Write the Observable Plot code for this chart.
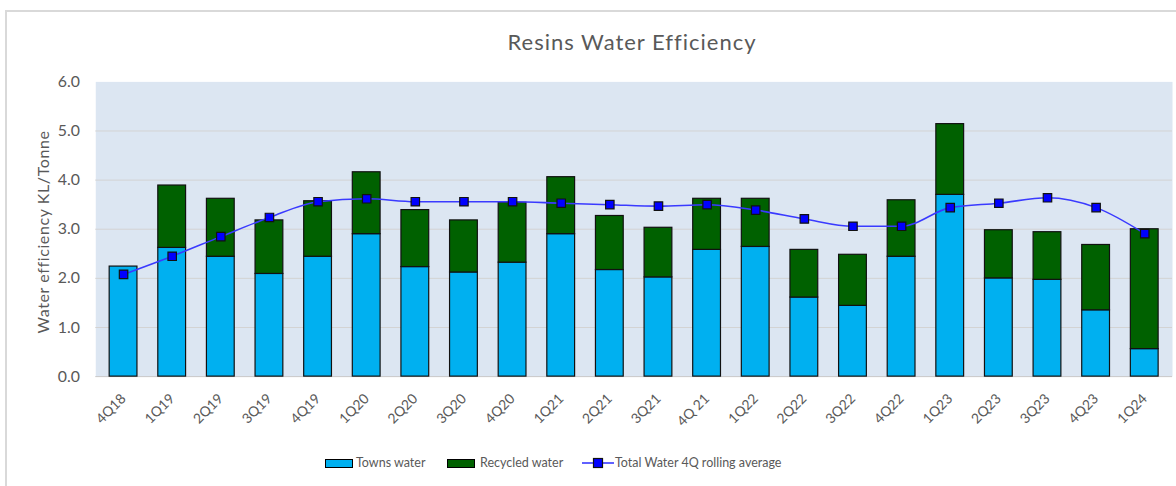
<!DOCTYPE html>
<html><head><meta charset="utf-8">
<script src="https://cdn.jsdelivr.net/npm/d3@7"></script>
<script src="https://cdn.jsdelivr.net/npm/@observablehq/plot@0.6"></script>
<style>
html,body{margin:0;padding:0;background:#fff;overflow:hidden;width:1176px;height:486px;}
#root{position:relative;width:1176px;height:486px;font-family:Lato,"Open Sans",sans-serif;color:#595959;overflow:hidden;}
#frame{position:absolute;left:5px;top:10px;width:1300px;height:600px;border-left:2px solid #d9d9d9;border-top:2px solid #d9d9d9;box-sizing:border-box;}
#title{position:absolute;left:0;width:1264px;top:29px;text-align:center;font-size:22px;letter-spacing:1px;line-height:26px;}
#ylabel{position:absolute;left:43px;top:232px;transform:translate(-50%,-50%) rotate(-90deg);white-space:nowrap;font-size:16px;letter-spacing:0.6px;line-height:18px;}
#chart{position:absolute;left:0;top:0;}
.lg{position:absolute;font-size:12.5px;line-height:16px;top:455px;white-space:nowrap;}
.sw{position:absolute;top:459px;width:26px;height:7px;border:1px solid #000;}
</style>
</head><body>
<div id="root">
  <div id="frame"></div>
  <div id="chart"></div>
  <div id="title"></div>
  <div id="ylabel"></div>
  <div id="legend"></div>
</div>
<script>
const titleText = "Resins Water Efficiency";
const yLabelText = "Water efficiency KL/Tonne";
const quarters = ["4Q18","1Q19","2Q19","3Q19","4Q19","1Q20","2Q20","3Q20","4Q20","1Q21","2Q21","3Q21","4Q 21","1Q22","2Q22","3Q22","4Q22","1Q23","2Q23","3Q23","4Q23","1Q24"];
const townsWater = [2.24,2.62,2.44,2.09,2.44,2.90,2.23,2.12,2.32,2.90,2.17,2.02,2.58,2.64,1.61,1.44,2.44,3.70,2.00,1.97,1.35,0.56];
const recycledWater = [0.00,1.27,1.18,1.09,1.13,1.26,1.16,1.06,1.22,1.16,1.10,1.01,1.04,0.98,0.97,1.04,1.15,1.44,0.98,0.97,1.33,2.44];
const rollingAverage = [2.08,2.45,2.85,3.24,3.56,3.62,3.56,3.56,3.56,3.53,3.50,3.47,3.50,3.39,3.21,3.06,3.06,3.44,3.53,3.64,3.44,2.91];
const yTicks = [0,1,2,3,4,5,6];
const seriesNames = ["Towns water","Recycled water"];
const lineName = "Total Water 4Q rolling average";
const seriesColors = ["#00b0f0","#006100"];
const lineColor = "#3a3aff";
const markerColor = "#0000ff";

const stacked = [];
quarters.forEach((q,i)=>{
  stacked.push({q, type: seriesNames[0], v: townsWater[i]});
  stacked.push({q, type: seriesNames[1], v: recycledWater[i]});
});
const avg = quarters.map((q,i)=>({q, v: rollingAverage[i]}));

const chart = Plot.plot({
  width: 1185, height: 442,
  marginLeft: 96, marginRight: 4, marginTop: 82, marginBottom: 63,
  style: {fontFamily: "Lato, 'Open Sans', sans-serif", fontSize: "14px", color: "#595959", background: "transparent", overflow: "visible"},
  x: {domain: quarters, paddingInner: 0.43, paddingOuter: 0.215, label: null, tickSize: 0, tickRotate: -45, tickPadding: 20},
  y: {domain: [0,6], ticks: yTicks, tickFormat: d3.format(".1f"), label: null, tickSize: 0, tickPadding: 16},
  color: {domain: seriesNames, range: seriesColors},
  marks: [
    Plot.frame({fill: "#dce6f2", stroke: null}),
    Plot.ruleY(yTicks.filter(d => d > 0 && d < 6), {stroke: "#d3d3d3", strokeWidth: 1}),
    Plot.ruleY([0], {stroke: "#c8c8c8", strokeWidth: 1}),
    Plot.barY(stacked, {x: "q", y: "v", fill: "type", stroke: "#111", strokeWidth: 1.2}),
    Plot.line(avg, {x: "q", y: "v", stroke: lineColor, strokeWidth: 1.6, curve: "monotone-x"}),
    Plot.dot(avg, {x: "q", y: "v", symbol: "square", fill: markerColor, stroke: "#111", strokeWidth: 1.2, r: 4.8})
  ]
});
document.getElementById("chart").appendChild(chart);
d3.select(chart).selectAll('[aria-label="y-axis tick label"] text, [aria-label="y-axis"] text').style("font-size","16px");
document.getElementById("title").textContent = titleText;
document.getElementById("ylabel").textContent = yLabelText;

const legend = document.getElementById("legend");
legend.innerHTML = `
  <div class="sw" style="left:325px;background:${seriesColors[0]}"></div>
  <div class="lg" style="left:356px">${seriesNames[0]}</div>
  <div class="sw" style="left:447px;background:${seriesColors[1]}"></div>
  <div class="lg" style="left:480px">${seriesNames[1]}</div>
  <svg style="position:absolute;left:582px;top:456px" width="32" height="14">
    <line x1="0" y1="7" x2="32" y2="7" stroke="${lineColor}" stroke-width="1.6"/>
    <rect x="11.5" y="2.5" width="9" height="9" fill="${markerColor}" stroke="#111" stroke-width="1.2"/>
  </svg>
  <div class="lg" style="left:615px">${lineName}</div>`;
</script>
</body></html>
